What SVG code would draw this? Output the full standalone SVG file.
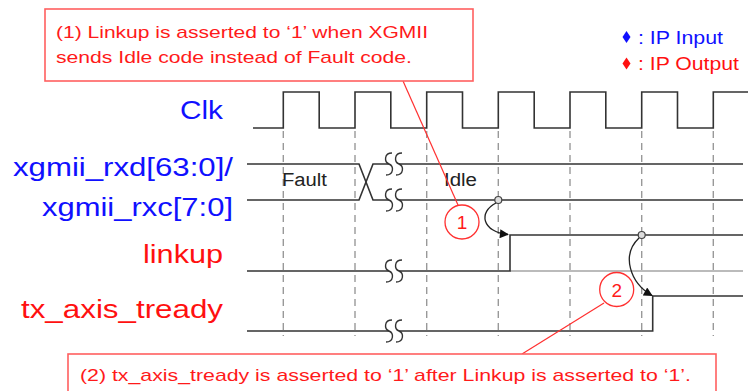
<svg xmlns="http://www.w3.org/2000/svg" xmlns:xlink="http://www.w3.org/1999/xlink" width="748" height="391" viewBox="0 0 748 391">
<defs>
<style>
.sig{fill:none;stroke:#333;stroke-width:1.6}
.grid{stroke:#999;stroke-width:1.4;stroke-dasharray:7 5}
.lbl{font-family:"Liberation Sans",Arial,sans-serif;font-size:25px}
.blue{fill:#1010ff}
.red{fill:#ff1010}
.call{fill:#fff;stroke:#ff5f5f;stroke-width:1.6}
.ctext{font-family:"Liberation Sans",Arial,sans-serif;font-size:17px;fill:#ff1a1a}
.ptr{stroke:#ff3030;stroke-width:1.2;fill:none}
.val{font-family:"Liberation Sans",Arial,sans-serif;font-size:18px;fill:#222}
.num{font-family:"Liberation Sans",Arial,sans-serif;font-size:19px;fill:#ff1a1a}
.arr{fill:none;stroke:#222;stroke-width:1.3}
</style>
<marker id="ah" viewBox="0 0 10 10" refX="9" refY="5" markerWidth="11" markerHeight="9" orient="auto" markerUnits="userSpaceOnUse">
<path d="M0,0 L10,5 L0,10 z" fill="#111"/>
</marker>
<g id="brk">
<path d="M-2,-11 C-10,-11 -10,-2 -5,0 C0,2 0,11 -8,11 L2,11 C10,11 10,2 5,0 C0,-2 0,-11 8,-11 Z" fill="#fff" stroke="none"/>
<path d="M-2,-11 C-10,-11 -10,-2 -5,0 C0,2 0,11 -8,11" fill="none" stroke="#333" stroke-width="1.4"/>
<path d="M8,-11 C0,-11 0,-2 5,0 C10,2 10,11 2,11" fill="none" stroke="#333" stroke-width="1.4"/>
</g>
</defs>
<rect width="748" height="391" fill="#fff"/>

<g id="grid">
<line class="grid" x1="283.3" y1="131" x2="283.3" y2="336"/>
<line class="grid" x1="355" y1="131" x2="355" y2="336"/>
<line class="grid" x1="426.7" y1="131" x2="426.7" y2="336"/>
<line class="grid" x1="498.3" y1="131" x2="498.3" y2="336"/>
<line class="grid" x1="570" y1="131" x2="570" y2="336"/>
<line class="grid" x1="641.7" y1="131" x2="641.7" y2="336"/>
<line class="grid" x1="713.3" y1="131" x2="713.3" y2="336"/>
</g>

<g id="labels">
<text class="lbl blue" x="180" y="119" textLength="43" lengthAdjust="spacingAndGlyphs">Clk</text>
<text class="lbl blue" x="13" y="176" textLength="220" lengthAdjust="spacingAndGlyphs">xgmii_rxd[63:0]/</text>
<text class="lbl blue" x="42" y="216" textLength="191" lengthAdjust="spacingAndGlyphs">xgmii_rxc[7:0]</text>
<text class="lbl red" x="143" y="263" textLength="80" lengthAdjust="spacingAndGlyphs">linkup</text>
<text class="lbl red" x="21" y="318" textLength="202" lengthAdjust="spacingAndGlyphs">tx_axis_tready</text>
</g>

<g id="legend">
<polygon points="626.5,31 630.5,37 626.5,43 622.5,37" fill="#1010ff"/>
<text x="638" y="43.5" font-family="Liberation Sans, Arial, sans-serif" font-size="18" fill="#1010ff" textLength="85" lengthAdjust="spacingAndGlyphs">: IP Input</text>
<polygon points="626.5,57.5 630.5,63.5 626.5,69.5 622.5,63.5" fill="#ff1010"/>
<text x="638" y="70" font-family="Liberation Sans, Arial, sans-serif" font-size="18" fill="#ff1010" textLength="101" lengthAdjust="spacingAndGlyphs">: IP Output</text>
</g>

<g id="clk">
<path class="sig" d="M253,128 H283.3 V92 H319.2 V128 H355 V92 H390.8 V128 H426.7 V92 H462.5 V128 H498.3 V92 H534.2 V128 H570 V92 H605.8 V128 H641.7 V92 H677.5 V128 H713.3 V92 H748"/>
</g>

<g id="xgmii">
<path class="sig" d="M247,164 H359 L373,200 H743"/>
<path class="sig" d="M247,200 H359 L373,164 H743"/>
<use xlink:href="#brk" x="394" y="164"/>
<use xlink:href="#brk" x="394" y="200"/>
<text class="val" x="282" y="186" textLength="45" lengthAdjust="spacingAndGlyphs">Fault</text>
<text class="val" x="444" y="186" textLength="33" lengthAdjust="spacingAndGlyphs">Idle</text>
</g>

<g id="linkup">
<line x1="510" y1="271" x2="743" y2="271" stroke="#bbb" stroke-width="2"/>
<path class="sig" d="M247,271 H510 V235 H743"/>
<use xlink:href="#brk" x="394" y="271"/>
</g>

<g id="tready">
<path class="sig" d="M247,331 H652.7 V296 H743" stroke="#111"/>
<use xlink:href="#brk" x="394" y="331"/>
</g>

<g id="connectors">
<path class="arr" d="M496,203 C478,212 482,232 508,234.5" marker-end="url(#ah)"/>
<path class="arr" d="M639,238 C621,255 630,283 652,295.5" marker-end="url(#ah)"/>
<circle cx="498.3" cy="200" r="3.5" fill="#ddd" stroke="#444" stroke-width="1.2"/>
<circle cx="641.7" cy="235" r="3.5" fill="#ddd" stroke="#444" stroke-width="1.2"/>
<line class="ptr" x1="403" y1="81" x2="458" y2="205"/>
<line class="ptr" x1="522" y1="354" x2="604" y2="303"/>
</g>

<g id="callout1">
<rect class="call" x="45" y="9" width="428" height="72"/>
<text class="ctext" x="56" y="38" textLength="372" lengthAdjust="spacingAndGlyphs">(1) Linkup is asserted to ‘1’ when XGMII</text>
<text class="ctext" x="56" y="63" textLength="356" lengthAdjust="spacingAndGlyphs">sends Idle code instead of Fault code.</text>
</g>

<g id="mark1">
<circle cx="462" cy="222" r="17" fill="#fff" stroke="#ff3030" stroke-width="1.3"/>
<text class="num" x="462" y="229" text-anchor="middle">1</text>
</g>

<g id="mark2">
<circle cx="616.7" cy="289.5" r="17" fill="#fff" stroke="#ff3030" stroke-width="1.3"/>
<text class="num" x="616.7" y="296.5" text-anchor="middle">2</text>
</g>

<g id="callout2">
<rect class="call" x="68" y="354" width="648" height="45"/>
<text class="ctext" x="80" y="381" textLength="611" lengthAdjust="spacingAndGlyphs">(2) tx_axis_tready is asserted to ‘1’ after Linkup is asserted to ‘1’.</text>
</g>
</svg>
